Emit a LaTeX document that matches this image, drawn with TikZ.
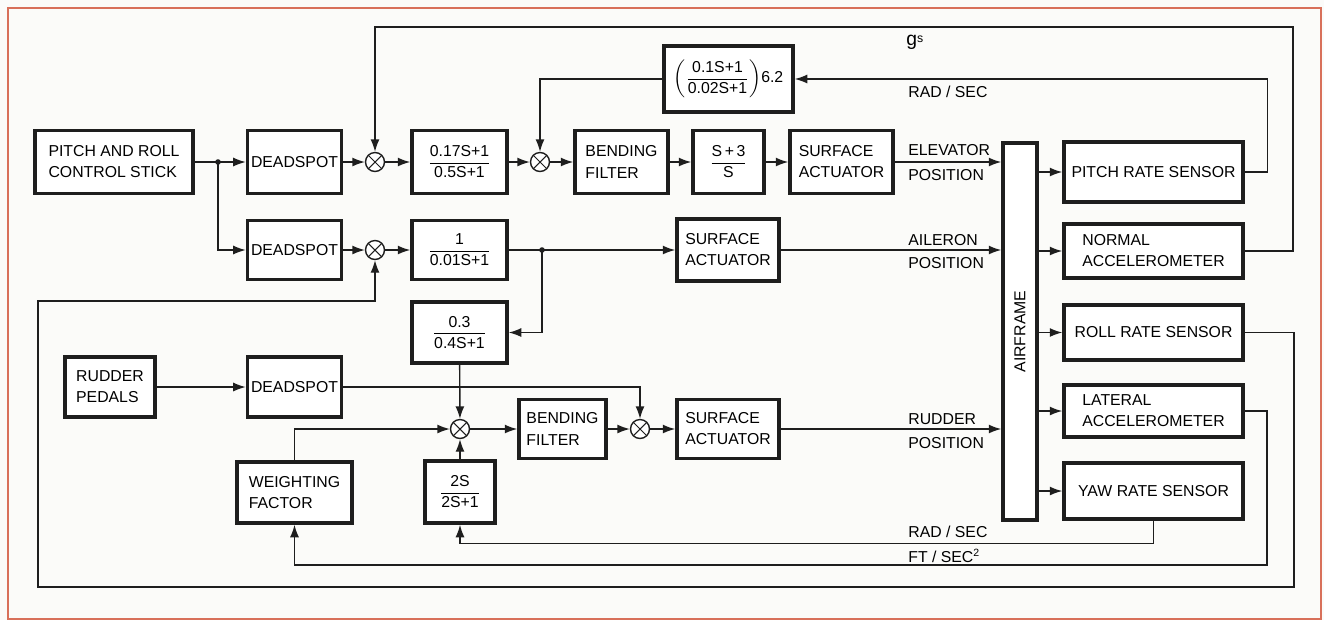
\documentclass[tikz,border=0pt]{standalone}
\usepackage{amsmath}
\usepackage{fontspec}
\setmainfont{Liberation Sans}
\usetikzlibrary{arrows.meta,positioning,calc}
\definecolor{ink}{HTML}{1E1E1E}
\definecolor{paper}{HTML}{FBFBF9}
\definecolor{frame}{HTML}{D8705A}
\tikzset{
  box/.style={
    draw=ink,fill=white,line width=2pt,
    minimum width=1.86cm,minimum height=1.22cm,
    inner sep=2pt,align=left,font=\fontsize{9}{12}\selectfont
  },
  tfbox/.style={box,align=center},
  sumnode/.style={
    circle,draw=ink,fill=white,line width=.8pt,
    minimum size=3.8mm,inner sep=0pt,
    path picture={\draw[ink,line width=.6pt]
      (path picture bounding box.north west)--(path picture bounding box.south east)
      (path picture bounding box.north east)--(path picture bounding box.south west);}
  },
  arrow/.style={-{Latex[length=2.5mm,width=1.8mm]},draw=ink,line width=.8pt},
  wire/.style={draw=ink,line width=.8pt},
  lbl/.style={anchor=west,inner sep=0pt,font=\fontsize{9}{11}\selectfont}
}

\begin{document}
\begin{tikzpicture}[x=0.02cm,y=-0.02cm]
\useasboundingbox (0,0) rectangle (1324,620);
\fill[paper] (0,0) rectangle (1324,620);
\draw[frame,line width=1.2pt] (8,8) rectangle (1321,619);

% pitch channel
\node[box,minimum width=3.16cm,minimum height=1.26cm] (stick) at (114,162) {PITCH AND ROLL\\CONTROL STICK};
\node[box,minimum height=1.26cm] (dead1) at (294.5,162) {DEADSPOT};
\node[sumnode] (s1) at (375,162) {};
\node[tfbox,minimum width=1.9cm,minimum height=1.26cm] (lead) at (459.5,162) {$\dfrac{\text{0.17S+1}}{\text{0.5S+1}}$};
\node[sumnode] (s3) at (540,162) {};
\node[box,minimum height=1.26cm] (bend1) at (621.5,162) {BENDING\\FILTER};
\node[tfbox,minimum width=1.42cm,minimum height=1.26cm] (integ) at (728.5,162) {$\dfrac{\text{S\,+\,3}}{\text{S}}$};
\node[box,minimum width=2.06cm,minimum height=1.26cm] (act1) at (841.5,162) {SURFACE\\ACTUATOR};
\node[tfbox,minimum width=2.58cm,minimum height=1.32cm] (fb) at (728.5,79) {$\left(\dfrac{\text{0.1S+1}}{\text{0.02S+1}}\right)$6.2};

% roll channel
\node[box,minimum height=1.18cm] (dead2) at (294.5,250) {DEADSPOT};
\node[sumnode] (s2) at (375,250) {};
\node[tfbox,minimum width=1.9cm,minimum height=1.18cm] (lag) at (459.5,250) {$\dfrac{\text{1}}{\text{0.01S+1}}$};
\node[box,minimum width=2.04cm,minimum height=1.24cm] (act2) at (728,250) {SURFACE\\ACTUATOR};
\node[tfbox,minimum width=1.9cm,minimum height=1.22cm] (cross) at (459.5,332.5) {$\dfrac{\text{0.3}}{\text{0.4S+1}}$};

% yaw channel
\node[box,minimum width=1.8cm,minimum height=1.2cm] (pedals) at (110,387) {RUDDER\\PEDALS};
\node[box,minimum height=1.2cm] (dead3) at (294.5,387) {DEADSPOT};
\node[sumnode] (s4) at (460,429) {};
\node[box,minimum width=1.74cm,minimum height=1.18cm] (bend2) at (562.5,429) {BENDING\\FILTER};
\node[sumnode] (s5) at (640,429) {};
\node[box,minimum width=2.04cm,minimum height=1.18cm] (act3) at (728,429) {SURFACE\\ACTUATOR};
\node[box,minimum width=2.3cm,minimum height=1.22cm] (weight) at (294.5,492.5) {WEIGHTING\\FACTOR};
\node[tfbox,minimum width=1.4cm,minimum height=1.24cm] (wash) at (460,492) {$\dfrac{\text{2S}}{\text{2S+1}}$};

% airframe and sensors
\node[box,minimum width=.68cm,minimum height=7.54cm,inner sep=0pt] (airframe) at (1020,331.5) {};
\node[rotate=90,font=\fontsize{9}{11}\selectfont] at (airframe) {AIRFRAME};
\node[box,minimum width=3.58cm,minimum height=1.2cm,align=center] (pitch) at (1153.5,172) {PITCH RATE SENSOR};
\node[box,minimum width=3.58cm,minimum height=1.08cm] (normal) at (1153.5,251) {NORMAL\\ACCELEROMETER};
\node[box,minimum width=3.58cm,minimum height=1.1cm,align=center] (roll) at (1153.5,332.5) {ROLL RATE SENSOR};
\node[box,minimum width=3.58cm,minimum height=1.04cm] (lateral) at (1153.5,411) {LATERAL\\ACCELEROMETER};
\node[box,minimum width=3.58cm,minimum height=1.12cm,align=center] (yaw) at (1153.5,491) {YAW RATE SENSOR};

\coordinate (split) at (218,162);
\coordinate (tap) at (542,250);

% forward paths
\draw[wire] (stick.east) -- (split);
\draw[arrow] (split) -- (dead1.west);
\draw[arrow] (split) |- (dead2.west);
\fill[ink] (split) circle (1.6pt);
\draw[arrow] (dead1) -- (s1);
\draw[arrow] (s1) -- (lead);
\draw[arrow] (lead) -- (s3);
\draw[arrow] (s3) -- (bend1);
\draw[arrow] (bend1) -- (integ);
\draw[arrow] (integ) -- (act1);
\draw[arrow] (act1.east) -- (act1.east -| airframe.west);
\draw[arrow] (dead2) -- (s2);
\draw[arrow] (s2) -- (lag);
\draw[wire] (lag.east) -- (tap);
\draw[arrow] (tap) -- (act2.west);
\draw[arrow] (act2.east) -- (act2.east -| airframe.west);
\draw[arrow] (tap) |- (cross.east);
\fill[ink] (tap) circle (1.6pt);
\draw[arrow] (cross) -- (s4);
\draw[arrow] (pedals) -- (dead3);
\draw[arrow] (dead3.east) -| (s5.north);
\draw[arrow] (weight.north) |- (s4.west);
\draw[arrow] (wash) -- (s4);
\draw[arrow] (s4) -- (bend2);
\draw[arrow] (bend2) -- (s5);
\draw[arrow] (s5) -- (act3);
\draw[arrow] (act3.east) -- (act3.east -| airframe.west);
\foreach \s in {pitch,normal,roll,lateral,yaw}
  \draw[arrow] (\s.west -| airframe.east) -- (\s.west);

% feedback paths
\draw[arrow] (pitch.east) -- ++(23,0) |- (fb.east);
\draw[arrow] (fb.west) -| (s3.north);
\draw[arrow] (normal.east) -| (1293,27) -| (s1.north);
\draw[arrow] (roll.east) -| (1294,587) -| (38,301) -| (s2.south);
\draw[arrow] (lateral.east) -| (1267,565) -| (weight.south);
\draw[arrow] (yaw.south) -- ++(0,23) -| (wash.south);

% signal labels
\node[lbl] at (906,42) {{\fontsize{11}{12}\selectfont g}\raisebox{.3ex}{\fontsize{7}{8}\selectfont s}};
\node[lbl] at (908,92) {RAD / SEC};
\node[lbl] at (908,150) {ELEVATOR};
\node[lbl] at (908,175) {POSITION};
\node[lbl] at (908,240) {AILERON};
\node[lbl] at (908,263) {POSITION};
\node[lbl] at (908,419) {RUDDER};
\node[lbl] at (908,443) {POSITION};
\node[lbl] at (908,532) {RAD / SEC};
\node[lbl] at (908,556) {FT / SEC\textsuperscript{2}};
\end{tikzpicture}
\end{document}
